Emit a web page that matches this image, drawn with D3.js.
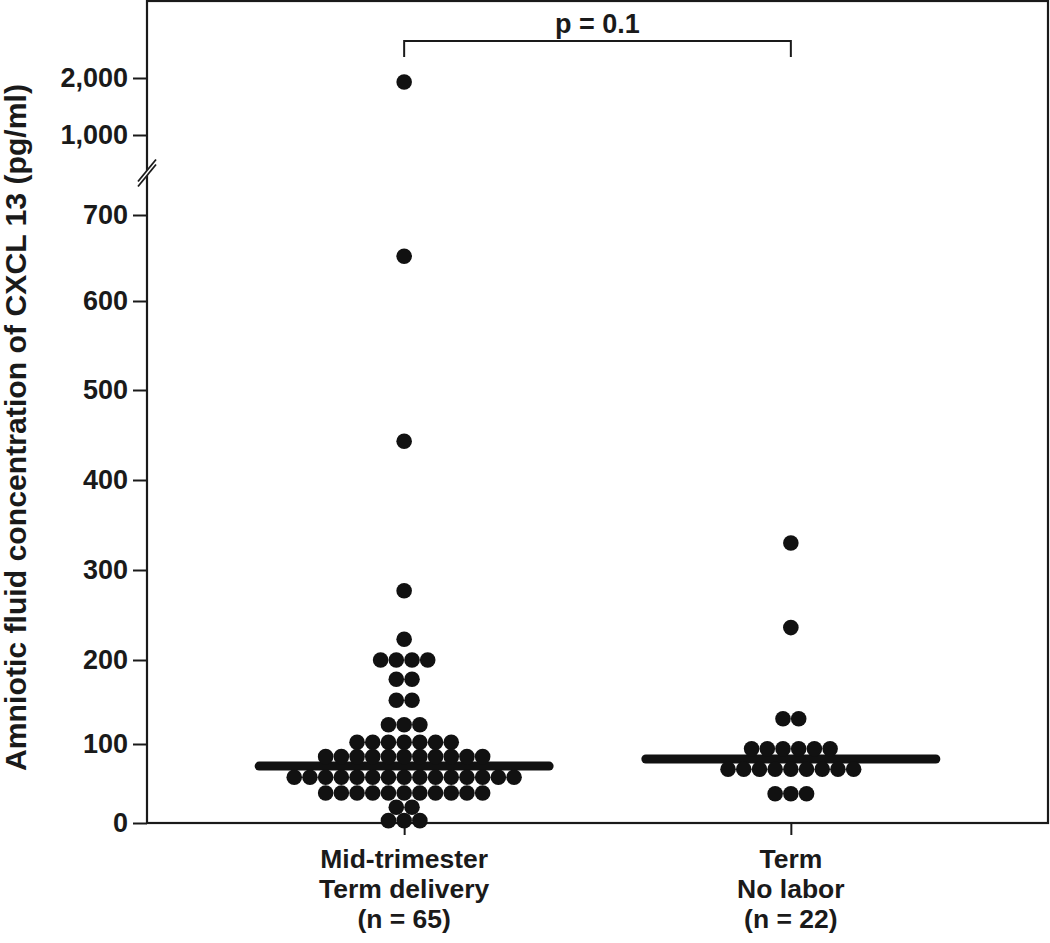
<!DOCTYPE html>
<html>
<head>
<meta charset="utf-8">
<script src="https://cdn.jsdelivr.net/npm/d3@7"></script>
<style>
  html, body { margin: 0; padding: 0; background: #fff; }
  svg { display: block; }
  text { font-family: "Liberation Sans", Arial, sans-serif; font-weight: bold; fill: #1a1a1a; }
</style>
</head>
<body>
<svg id="chart" width="1050" height="943"></svg>
<script>
// ---------- data ----------
const categories = ["Mid-trimester|Term delivery|(n = 65)", "Term|No labor|(n = 22)"];
const midTrimesterValues = [
  1930, 652, 443, 277, 223,
  200, 200, 200, 200,
  177, 177,
  152, 152,
  123, 123, 123,
  102, 102, 102, 102, 102, 102, 102,
  84, 84, 84, 84, 84, 84, 84, 84, 84, 84, 84,
  58, 58, 58, 58, 58, 58, 58, 58, 58, 58, 58, 58, 58, 58, 58,
  38, 38, 38, 38, 38, 38, 38, 38, 38, 38, 38,
  20, 20,
  3, 3, 3
];
const termValues = [
  330, 236,
  130, 130,
  94, 94, 94, 94, 94, 94,
  68, 68, 68, 68, 68, 68, 68, 68, 68,
  37, 37, 37
];
const medians = [72, 81];
const lowerTicks = [0, 100, 200, 300, 400, 500, 600, 700];
const upperTicks = [1000, 2000];
const pLabel = "p = 0.1";
const yTitle = "Amniotic fluid concentration of CXCL 13 (pg/ml)";

(function () {
// ---------- layout ----------
const svg = d3.select("#chart");
const mLeft = 147, mRight = 1048, mTop = 1, mBottom = 823;
const ink = "#1a1a1a";

const x = d3.scalePoint().domain(categories).range([mLeft, mRight]).padding(0.665);
// lower segment (the printed axis is slightly uneven; follow its tick positions)
const yLow = d3.scaleLinear().domain(lowerTicks).range([823, 744, 660, 570, 480, 390, 301, 215]);
const yUp = d3.scaleLinear().domain([1000, 2000]).range([135, 78]);
const y = v => v >= 1000 ? yUp(v) : yLow(v);

// frame
svg.append("rect").attr("x", mLeft).attr("y", mTop)
  .attr("width", mRight - mLeft).attr("height", mBottom - mTop)
  .attr("fill", "none").attr("stroke", ink).attr("stroke-width", 2.2);

// axes
function styleAxis(g) {
  g.select(".domain").remove();
  g.selectAll(".tick line").attr("stroke", ink).attr("stroke-width", 2);
  g.selectAll(".tick text").attr("font-size", 27).attr("fill", ink)
    .attr("font-family", "'Liberation Sans', Arial, sans-serif").attr("font-weight", "bold");
}
svg.append("g").attr("transform", `translate(${mLeft},0)`)
  .call(d3.axisLeft(yLow).tickValues(lowerTicks).tickSize(14).tickPadding(5).tickFormat(d3.format(",")))
  .call(styleAxis);
svg.append("g").attr("transform", `translate(${mLeft},0)`)
  .call(d3.axisLeft(yUp).tickValues(upperTicks).tickSize(14).tickPadding(5).tickFormat(d3.format(",")))
  .call(styleAxis);
svg.append("g").attr("transform", `translate(0,${mBottom})`)
  .call(d3.axisBottom(x).tickSize(12).tickFormat(""))
  .call(g => { g.select(".domain").remove(); g.selectAll(".tick line").attr("stroke", ink).attr("stroke-width", 2); });

// axis break marks
const by = 173;
svg.append("line").attr("x1", mLeft - 8).attr("y1", by + 10).attr("x2", mLeft + 8).attr("y2", by - 10)
  .attr("stroke", "#fff").attr("stroke-width", 4);
[-2.5, 2.5].forEach(o => {
  svg.append("line").attr("x1", mLeft - 9).attr("y1", by + 11 + o).attr("x2", mLeft + 9).attr("y2", by - 11 + o)
    .attr("stroke", ink).attr("stroke-width", 1.8);
});

// x labels
categories.forEach(c => {
  const lines = c.split("|");
  const t = svg.append("text").attr("text-anchor", "middle").attr("font-size", 26.5);
  lines.forEach((ln, i) => {
    t.append("tspan").attr("x", x(c)).attr("y", 868 + i * 30).text(ln);
  });
});

// y title
svg.append("text").attr("text-anchor", "middle").attr("font-size", 30.2)
  .attr("transform", `translate(26,${(85 + 770) / 2}) rotate(-90)`).text(yTitle);

// dots
const r = 7.8, spacing = 15.7;
const groups = [midTrimesterValues, termValues];
groups.forEach((vals, gi) => {
  const cx = x(categories[gi]);
  const rows = d3.groups(vals, v => v);
  const pts = [];
  rows.forEach(([v, arr]) => {
    arr.forEach((_, i) => pts.push({ v, x: cx + (i - (arr.length - 1) / 2) * spacing }));
  });
  // median bar
  svg.append("line").attr("x1", cx - 145).attr("x2", cx + 145)
    .attr("y1", y(medians[gi])).attr("y2", y(medians[gi]))
    .attr("stroke", "#111").attr("stroke-width", 9).attr("stroke-linecap", "round");
  svg.append("g").selectAll("circle").data(pts).join("circle")
    .attr("cx", d => d.x).attr("cy", d => y(d.v)).attr("r", r).attr("fill", "#111");
});

// significance bracket
const x1 = x(categories[0]), x2 = x(categories[1]);
svg.append("path").attr("d", `M${x1},57V41H${x2}V57`)
  .attr("fill", "none").attr("stroke", ink).attr("stroke-width", 2);
svg.append("text").attr("x", (x1 + x2) / 2).attr("y", 33).attr("text-anchor", "middle")
  .attr("font-size", 27).text(pLabel);
})();
</script>
</body>
</html>
